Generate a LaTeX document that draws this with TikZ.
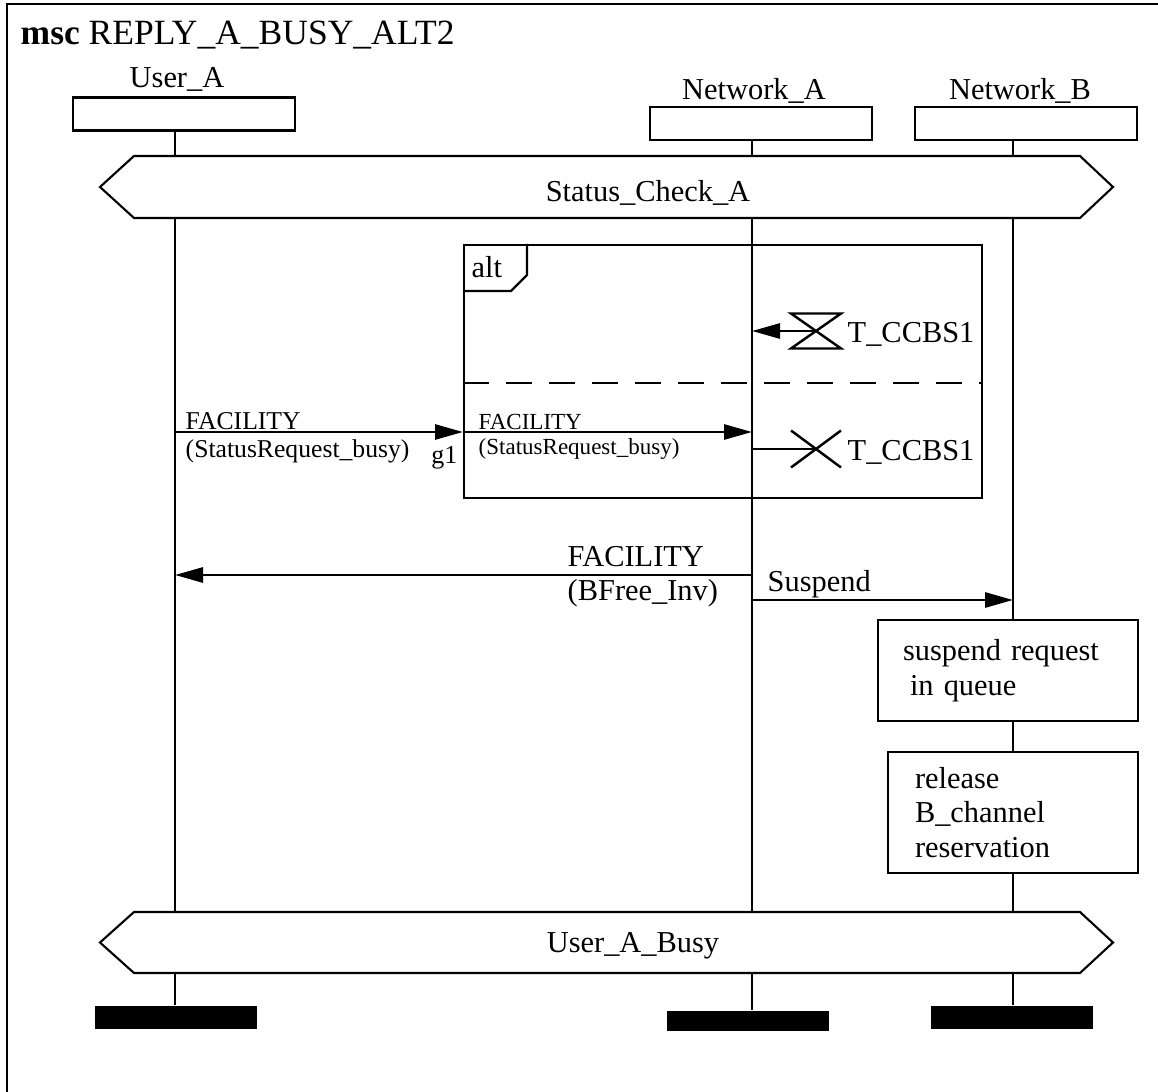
\documentclass[tikz,border=0pt]{standalone}
\usepackage{fontspec}
\setmainfont{Liberation Serif}
\usetikzlibrary{positioning,arrows.meta}

\tikzset{
  lbl/.style={font=\fontsize{8.65}{9.7}\selectfont, inner sep=0},
  gatelbl/.style={font=\fontsize{7.3}{8.5}\selectfont, inner sep=0},
  innerlbl/.style={font=\fontsize{6.55}{7.5}\selectfont, inner sep=0},
  inst/.style={draw, line width=0.75pt, minimum width=2.22cm, minimum height=0.33cm, inner sep=0},
  life/.style={line width=0.8pt},
  msg/.style={line width=0.8pt, -{Triangle[length=0.28cm,width=0.15cm]}},
  cond/.style={line width=0.6pt, fill=white},
  frm/.style={line width=0.7pt},
  action/.style={draw, line width=0.75pt, fill=white, align=left, inner sep=0,
    font=\fontsize{8.65}{9.8}\selectfont},
  stopbar/.style={fill=black, minimum width=1.62cm, minimum height=0.23cm, inner sep=0}
}

\begin{document}
\begin{tikzpicture}
  \useasboundingbox (0,0) rectangle (11.58,-10.92);

  % Frame (right and bottom edges fall off the page)
  \draw[line width=0.8pt] (0.07,-10.92) -- (0.07,-0.04) -- (11.58,-0.04);
  \node[anchor=base west, inner sep=0, font=\fontsize{10.1}{12}\selectfont] (title) at (0.20,-0.45)
    {\textbf{msc} REPLY\_A\_BUSY\_ALT2};

  % Instance heads
  \node[inst] (ua) at (1.84,-1.14) {};
  \node[inst] (na) at (7.61,-1.235) {};
  \node[inst] (nb) at (10.26,-1.235) {};
  \node[lbl, anchor=base] (uaname) at (1.77,-0.88) {User\_A};
  \node[lbl, anchor=base] (naname) at (7.54,-1.00) {Network\_A};
  \node[lbl, anchor=base] (nbname) at (10.20,-1.00) {Network\_B};

  % Instance ends
  \node[stopbar] (uastop) at (1.76,-10.17) {};
  \node[stopbar, minimum height=0.20cm] (nastop) at (7.48,-10.205) {};
  \node[stopbar] (nbstop) at (10.12,-10.17) {};

  % Lifelines
  \coordinate (la) at (1.75,0);
  \coordinate (lna) at (7.52,0);
  \coordinate (lnb) at (10.13,0);
  \draw[life] (ua.south -| la) -- (uastop.north -| la);
  \draw[life] (na.south -| lna) -- (nastop.north -| lna);
  \draw[life] (nb.south -| lnb) -- (nbstop.north -| lnb);

  % Conditions
  \draw[cond] (1.00,-1.87) -- (1.34,-1.56) -- (10.80,-1.56) -- (11.13,-1.87) -- (10.80,-2.18) -- (1.34,-2.18) -- cycle;
  \node[lbl, anchor=base] (chk) at (6.48,-2.02) {Status\_Check\_A};
  \draw[cond] (1.00,-9.425) -- (1.34,-9.12) -- (10.80,-9.12) -- (11.13,-9.425) -- (10.80,-9.73) -- (1.34,-9.73) -- cycle;
  \node[lbl, anchor=base] (busy) at (6.33,-9.52) {User\_A\_Busy};

  % alt inline expression
  \node[draw, frm, anchor=north west, minimum width=5.18cm, minimum height=2.53cm, inner sep=0] (altbox) at (4.63,-2.44) {};
  \draw[frm] (altbox.west |- 0,-2.91) -- (5.11,-2.91) -- (5.27,-2.75) -- (5.27,-2.44);
  \node[lbl, anchor=base west] (alt) at (4.71,-2.78) {alt};
  \draw[frm, dash pattern=on 0.26cm off 0.17cm] (altbox.west |- 0,-3.83) -- (altbox.east |- 0,-3.83);

  % Timer expiry
  \coordinate (t1) at (8.16,-3.31);
  \draw[frm] (7.91,-3.135) -- (8.41,-3.135) -- (7.91,-3.485) -- (8.41,-3.485) -- cycle;
  \draw[msg] (t1) -- (t1 -| lna);
  \node[lbl, anchor=base west] (t1name) at (8.47,-3.43) {T\_CCBS1};

  % Timer stop
  \coordinate (t2) at (8.16,-4.49);
  \draw[frm] (7.91,-4.305) -- (8.41,-4.675) (7.91,-4.675) -- (8.41,-4.305);
  \draw[life] (t2 -| lna) -- (t2);
  \node[lbl, anchor=base west] (t2name) at (8.47,-4.61) {T\_CCBS1};

  % FACILITY through gate g1
  \coordinate (m1) at (0,-4.32);
  \draw[msg] (m1 -| la) -- (m1 -| altbox.west);
  \draw[msg] (m1 -| altbox.west) -- (m1 -| lna);
  \node[gatelbl, anchor=base west] (m1a) at (1.85,-4.30) {FACILITY};
  \node[gatelbl, anchor=base west] (m1b) at (1.85,-4.58) {(StatusRequest\_busy)};
  \node[gatelbl, anchor=base east, font=\fontsize{7.4}{9}\selectfont] (g1) at (4.58,-4.64) {g1};
  \node[innerlbl, anchor=base west] (m1c) at (4.78,-4.30) {FACILITY};
  \node[innerlbl, anchor=base west] (m1d) at (4.78,-4.55) {(StatusRequest\_busy)};

  % FACILITY (BFree_Inv)
  \coordinate (m2) at (0,-5.75);
  \draw[msg] (m2 -| lna) -- (m2 -| la);
  \node[lbl, anchor=base west] (m2a) at (5.67,-5.67) {FACILITY};
  \node[lbl, anchor=base west] (m2b) at (5.67,-6.01) {(BFree\_Inv)};

  % Suspend
  \coordinate (m3) at (0,-6.00);
  \draw[msg] (m3 -| lna) -- (m3 -| lnb);
  \node[lbl, anchor=base west] (m3a) at (7.67,-5.92) {Suspend};

  % Actions
  \node[action, minimum width=2.60cm, minimum height=1.01cm, text width=2.10cm] (queue) at (10.08,-6.705)
    {suspend request\\\hspace*{0.07cm}in queue};
  \node[action, minimum width=2.50cm, minimum height=1.21cm, text width=1.96cm] (release) at (10.13,-8.125)
    {release\\B\_channel\\reservation};
\end{tikzpicture}
\end{document}
